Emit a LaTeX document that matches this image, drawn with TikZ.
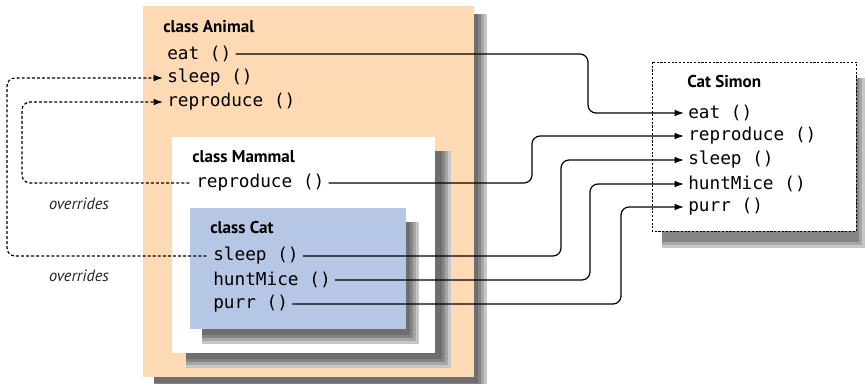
\documentclass[tikz,border=0pt]{standalone}
\usepackage{fontspec}
\setmonofont{DejaVu Sans Mono}
\newfontfamily\headfont{PT Sans}
\usetikzlibrary{arrows.meta}
\definecolor{animalfill}{HTML}{FDD9B4}
\definecolor{catfill}{HTML}{B5C7E5}
\tikzset{
    method/.style={anchor=west,inner xsep=3pt,inner ysep=1pt,font=\ttfamily\fontsize{13.3}{15}\selectfont},
    classname/.style={anchor=west,inner sep=0pt,font=\headfont\bfseries\fontsize{12.8}{15}\selectfont},
    note/.style={inner sep=0pt,text=black!85,font=\headfont\itshape\fontsize{12.3}{14}\selectfont},
    link/.style={-{Latex[length=7pt,width=5pt]},rounded corners=6pt,line width=0.9pt},
    overrides/.style={link,dash pattern=on 2.2pt off 1.6pt,shorten <=2pt}
}
\begin{document}
\begin{tikzpicture}[x=0.75pt,y=-0.75pt]
    \useasboundingbox (0,0) rectangle (865,383);

    % class Animal
    \begin{scope}[shift={(143,6)}]
        \foreach \s/\c in {0/22,3/35,6/48,9/57}
            \fill[black!\c] (11,8) rectangle (344-\s,386-\s);
        \fill[animalfill] (0,0) rectangle (331,371);
        \node[classname] (animal) at (20,21) {class Animal};
        \node[method] (aEat) at (20,48) {eat ()};
        \node[method] (aSleep) at (20,72) {sleep ()};
        \node[method] (aRepro) at (20,96) {reproduce ()};
    \end{scope}

    % class Mammal
    \begin{scope}[shift={(172,137)}]
        \foreach \s/\c in {0/22,3/35,6/48,9/57}
            \fill[black!\c] (14,14) rectangle (279-\s,231-\s);
        \fill[white] (0,0) rectangle (263,216);
        \node[classname] (mammal) at (20,20) {class Mammal};
        \node[method] (mRepro) at (20,46) {reproduce ()};
    \end{scope}

    % class Cat
    \begin{scope}[shift={(190,208)}]
        \foreach \s/\c in {0/22,3/35,6/48,9/57}
            \fill[black!\c] (12,14) rectangle (229-\s,136-\s);
        \fill[catfill] (0,0) rectangle (216,121);
        \node[classname] (cat) at (20,20) {class Cat};
        \node[method] (cSleep) at (19,48) {sleep ()};
        \node[method] (cHunt) at (19,72) {huntMice ()};
        \node[method] (cPurr) at (19,96) {purr ()};
    \end{scope}

    % object Cat Simon
    \begin{scope}[shift={(652,62)}]
        \foreach \s/\c in {0/22,3/35,6/48}
            \fill[black!\c] (10,16) rectangle (213-\s,186-\s);
        \filldraw[fill=white,line width=0.6pt,dash pattern=on 1.6pt off 1.2pt] (0,0) rectangle (204,169);
        \node[classname] (simon) at (35,20) {Cat Simon};
        \node[method] (sEat) at (32,51) {eat ()};
        \node[method] (sRepro) at (32,74) {reproduce ()};
        \node[method] (sSleep) at (32,98) {sleep ()};
        \node[method] (sHunt) at (32,122) {huntMice ()};
        \node[method] (sPurr) at (32,145) {purr ()};
    \end{scope}

    % channels
    \coordinate (eatX) at (588,0);
    \coordinate (reproX) at (532,0);
    \coordinate (sleepX) at (561,0);
    \coordinate (huntX) at (590,0);
    \coordinate (purrX) at (621,0);
    \coordinate (overA) at (22,0);
    \coordinate (overB) at (7,0);

    % inherited methods
    \draw[link] (aEat) -- (aEat -| eatX) -- (sEat -| eatX) -- (sEat);
    \draw[link] (mRepro) -- (mRepro -| reproX) -- (sRepro -| reproX) -- (sRepro);
    \draw[link] (cSleep) -- (cSleep -| sleepX) -- (sSleep -| sleepX) -- (sSleep);
    \draw[link] (cHunt) -- (cHunt -| huntX) -- (sHunt -| huntX) -- (sHunt);
    \draw[link] (cPurr) -- (cPurr -| purrX) -- (sPurr -| purrX) -- (sPurr);

    % overrides
    \draw[overrides] (mRepro) -- (mRepro -| overA) -- (aRepro -| overA) -- (aRepro);
    \draw[overrides] (cSleep) -- (cSleep -| overB) -- (aSleep -| overB) -- (aSleep);
    \node[note] (noteA) at (79,204) {overrides};
    \node[note] (noteB) at (79,276) {overrides};
\end{tikzpicture}
\end{document}
